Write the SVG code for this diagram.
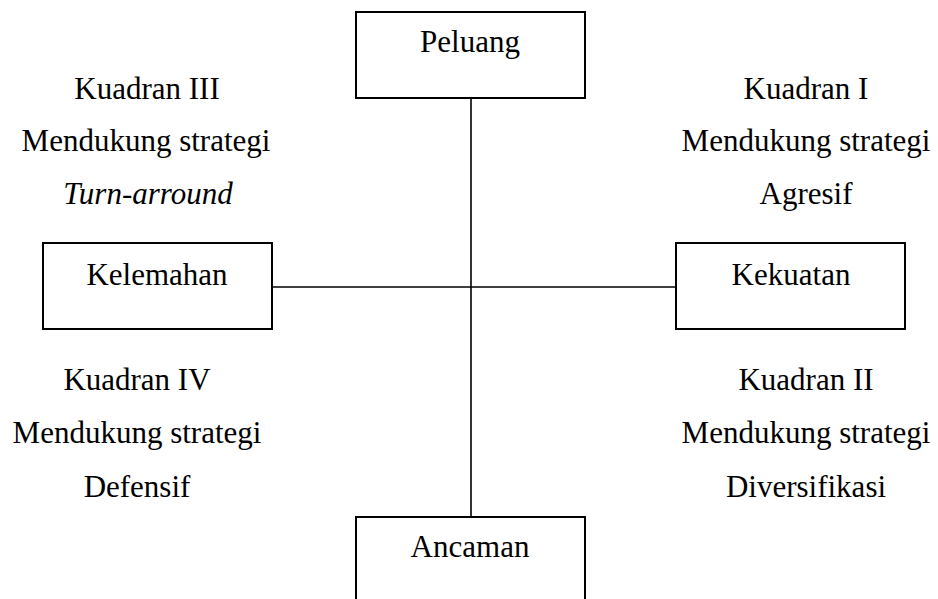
<svg xmlns="http://www.w3.org/2000/svg" width="938" height="599" viewBox="0 0 938 599">
<style>
  .box { fill: #ffffff; stroke: #000000; stroke-width: 2; }
  .conn { stroke: #000000; stroke-width: 1.6; fill: none; }
  text { font-family: "Liberation Serif", "Times New Roman", serif; font-size: 31px; fill: #000000; text-anchor: middle; }
  .it { font-style: italic; }
</style>
<rect width="938" height="599" fill="#ffffff"/>
<g id="connectors">
  <line class="conn" x1="471" y1="98" x2="471" y2="517"/>
  <line class="conn" x1="272" y1="287" x2="676" y2="287"/>
</g>
<g id="peluang">
  <rect class="box" x="356" y="12" width="229" height="86"/>
  <text x="470" y="52">Peluang</text>
</g>
<g id="kelemahan">
  <rect class="box" x="43" y="243" width="229" height="86"/>
  <text x="157" y="285">Kelemahan</text>
</g>
<g id="kekuatan">
  <rect class="box" x="676" y="243" width="229" height="86"/>
  <text x="791" y="285">Kekuatan</text>
</g>
<g id="ancaman">
  <rect class="box" x="356" y="517" width="229" height="100"/>
  <text x="470" y="557">Ancaman</text>
</g>
<g id="kuadran3">
  <text x="147" y="99">Kuadran III</text>
  <text x="146" y="151">Mendukung strategi</text>
  <text class="it" x="148" y="204">Turn-arround</text>
</g>
<g id="kuadran1">
  <text x="806" y="99">Kuadran I</text>
  <text x="806" y="151">Mendukung strategi</text>
  <text x="806" y="204">Agresif</text>
</g>
<g id="kuadran4">
  <text x="137" y="390">Kuadran IV</text>
  <text x="137" y="443">Mendukung strategi</text>
  <text x="137" y="497">Defensif</text>
</g>
<g id="kuadran2">
  <text x="806" y="390">Kuadran II</text>
  <text x="806" y="443">Mendukung strategi</text>
  <text x="806" y="497">Diversifikasi</text>
</g>
</svg>
